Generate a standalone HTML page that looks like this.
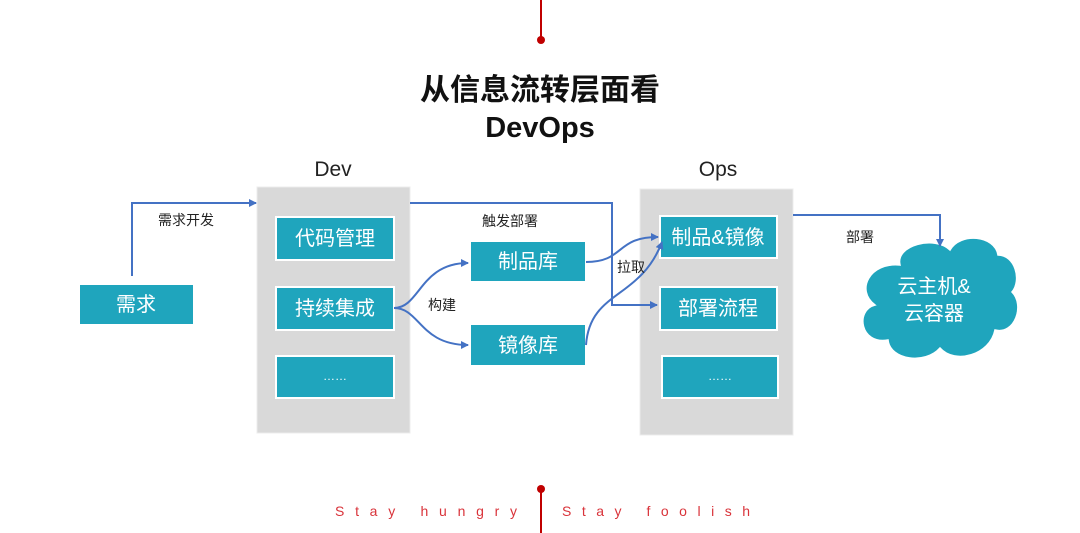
<!DOCTYPE html>
<html><head><meta charset="utf-8"><style>
html,body{margin:0;padding:0;background:#fff;width:1080px;height:533px;overflow:hidden}
svg{display:block}
text{font-family:"Liberation Sans","Noto Sans CJK SC",sans-serif}
</style></head><body>
<svg width="1080" height="533" viewBox="0 0 1080 533">
<defs>
<marker id="a" markerWidth="8" markerHeight="8" refX="7" refY="4" orient="auto" markerUnits="userSpaceOnUse"><path d="M0,0 L8,4 L0,8 z" fill="#4472c4"/></marker>
</defs>
<!-- red lines -->
<line x1="541" y1="0" x2="541" y2="40" stroke="#c00000" stroke-width="2"/>
<circle cx="541" cy="40" r="4" fill="#c00000"/>
<line x1="541" y1="489" x2="541" y2="533" stroke="#c00000" stroke-width="2"/>
<circle cx="541" cy="489" r="4" fill="#c00000"/>
<text x="335" y="516" font-size="14" fill="#d9333a" textLength="182" lengthAdjust="spacing">Stay hungry</text>
<text x="562" y="516" font-size="14" fill="#d9333a" textLength="188" lengthAdjust="spacing">Stay foolish</text>
<!-- title -->
<text x="540" y="100" font-size="30" font-weight="bold" text-anchor="middle" fill="#111">从信息流转层面看</text>
<text x="540" y="137" font-size="29" font-weight="bold" text-anchor="middle" fill="#111">DevOps</text>
<text x="333" y="176" font-size="21" text-anchor="middle" fill="#222">Dev</text>
<text x="718" y="176" font-size="21" text-anchor="middle" fill="#222">Ops</text>
<!-- panels -->
<rect x="257" y="187" width="153" height="246" fill="#d9d9d9" stroke="#ececec"/>
<rect x="640" y="189" width="153" height="246" fill="#d9d9d9" stroke="#ececec"/>
<g fill="#1fa5bd" stroke="#fff" stroke-width="2">
<rect x="79" y="284" width="115" height="41"/>
<rect x="276" y="217" width="118" height="43"/>
<rect x="276" y="287" width="118" height="43"/>
<rect x="276" y="356" width="118" height="42"/>
<rect x="470" y="241" width="116" height="41"/>
<rect x="470" y="324" width="116" height="42"/>
<rect x="660" y="216" width="117" height="42"/>
<rect x="660" y="287" width="117" height="43"/>
<rect x="662" y="356" width="116" height="42"/>
</g>
<g fill="#fff" font-size="20" text-anchor="middle">
<text x="136" y="311">需求</text>
<text x="335" y="245">代码管理</text>
<text x="335" y="315">持续集成</text>
<text x="335" y="380" font-size="12">……</text>
<text x="528" y="268">制品库</text>
<text x="528" y="352">镜像库</text>
<text x="718" y="244">制品&amp;镜像</text>
<text x="718" y="315">部署流程</text>
<text x="720" y="380" font-size="12">……</text>
</g>
<!-- cloud -->
<path d="M900,265 C895,245 935,235 950,250 C960,232 995,235 998,255 C1015,255 1022,280 1012,292 C1025,305 1015,335 995,330 C990,355 955,365 940,348 C925,365 890,360 888,340 C860,345 855,310 875,305 C855,290 870,262 900,265 Z" fill="#1fa5bd" stroke="#fff" stroke-width="1.5"/>
<g fill="#fff" font-size="20" text-anchor="middle">
<text x="934" y="293">云主机&amp;</text>
<text x="934" y="320">云容器</text>
</g>
<!-- connectors -->
<g stroke="#4472c4" stroke-width="2" fill="none">
<path d="M132,276 V203 H256" marker-end="url(#a)"/>
<path d="M410,203 H612 V305 H657" marker-end="url(#a)"/>
<path d="M394,308 C420,308 420,263 468,263" marker-end="url(#a)"/>
<path d="M394,308 C420,308 420,345 468,345" marker-end="url(#a)"/>
<path d="M586,262 C625,262 615,237 658,237" marker-end="url(#a)"/>
<path d="M586,345 C590,290 640,300 662,242" marker-end="url(#a)"/>
<path d="M793,215 H940 V246" marker-end="url(#a)"/>
</g>
<g fill="#222" font-size="14">
<text x="158" y="225">需求开发</text>
<text x="482" y="226">触发部署</text>
<text x="428" y="310">构建</text>
<text x="617" y="272">拉取</text>
<text x="846" y="242">部署</text>
</g>
</svg>
</body></html>
